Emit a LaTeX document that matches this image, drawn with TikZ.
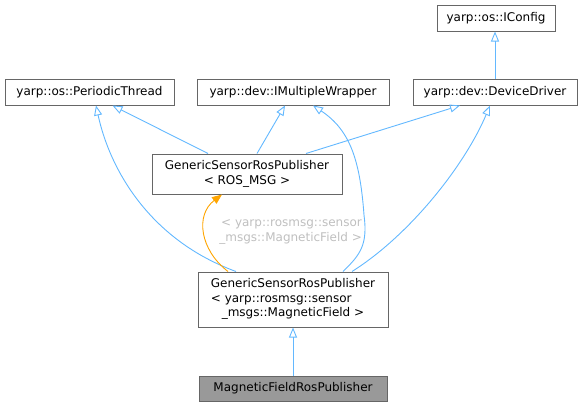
\documentclass[tikz,border=0pt]{standalone}
\usepackage{fontspec}
\setmainfont{DejaVu Sans}
\usetikzlibrary{arrows.meta}
\definecolor{edgeblue}{HTML}{63B8FF}
\definecolor{boxgray}{HTML}{666666}
\definecolor{labelgray}{HTML}{BFBFBF}
\definecolor{curfill}{HTML}{999999}
\definecolor{templorange}{HTML}{FFA500}
\begin{document}
\begin{tikzpicture}[x=1pt,y=-1pt,
    every node/.style={font=\fontsize{12}{14.5}\selectfont},
    cls/.style={draw=boxgray,line width=1pt,inner sep=0pt,align=center},
    inherit/.style={edgeblue,line width=0.9pt,-{Triangle[open,length=10pt,width=8pt]}},
    templ/.style={templorange,line width=0.9pt,-{Triangle[length=10pt,width=8pt]}}]
            \useasboundingbox (0,0) rectangle (584,407);
            % classes
            \node[cls,minimum width=118pt,minimum height=26pt] (iconfig) at (496,18) {yarp::os::IConfig};
            \node[cls,minimum width=169pt,minimum height=26pt] (periodic) at (89.5,92) {yarp::os::PeriodicThread};
            \node[cls,minimum width=192pt,minimum height=26pt] (imw) at (293,92) {yarp::dev::IMultipleWrapper};
            \node[cls,minimum width=164pt,minimum height=26pt] (dd) at (495,92) {yarp::dev::DeviceDriver};
            \node[cls,minimum width=190pt,minimum height=40pt] (rosmsg) at (247,174) {GenericSensorRosPublisher\\{< ROS\_MSG >}};
            \node[cls,minimum width=190pt,minimum height=55pt] (gen) at (293,299.5)
                {\begin{tabular}{@{}l@{}}GenericSensorRosPublisher\\{< yarp::rosmsg::sensor}\\\multicolumn{1}{@{}c@{}}{\_msgs::MagneticField >}\end{tabular}};
            \node[cls,fill=curfill,minimum width=188pt,minimum height=25pt] (mag) at (293,388.5) {MagneticFieldRosPublisher};
            % inheritance
            \draw[inherit] (dd.north) -- (iconfig.south -| dd.north);
            \draw[inherit] ([xshift=-39pt]rosmsg.north) -- ([xshift=23pt]periodic.south);
            \draw[inherit] ([xshift=10pt]rosmsg.north) -- ([xshift=-8pt]imw.south);
            \draw[inherit] ([xshift=59pt]rosmsg.north) -- ([xshift=-35pt]dd.south);
            \draw[inherit] ([xshift=-57pt]gen.north) .. controls (150,240) and (110,170) .. ([xshift=6.5pt]periodic.south);
            \draw[inherit] ([xshift=50pt]gen.north) .. controls (360,255) and (368,245) .. (364,215)
                .. controls (360,160) and (350,130) .. ([xshift=20pt]imw.south);
            \draw[inherit] ([xshift=59pt]gen.north) .. controls (410,235) and (465,165) .. ([xshift=-5pt]dd.south);
            \draw[inherit] (mag.north) -- (gen.south);
            % template instance
            \draw[templ] ([xshift=-65pt]gen.north) .. controls (200,250) and (195,215) .. ([xshift=-25pt]rosmsg.south);
            \node[text=labelgray,align=right,inner sep=0pt,anchor=east] (lbl) at (362,232)
                {< yarp::rosmsg::sensor\\\_msgs::MagneticField >};
        \end{tikzpicture}
\end{document}
